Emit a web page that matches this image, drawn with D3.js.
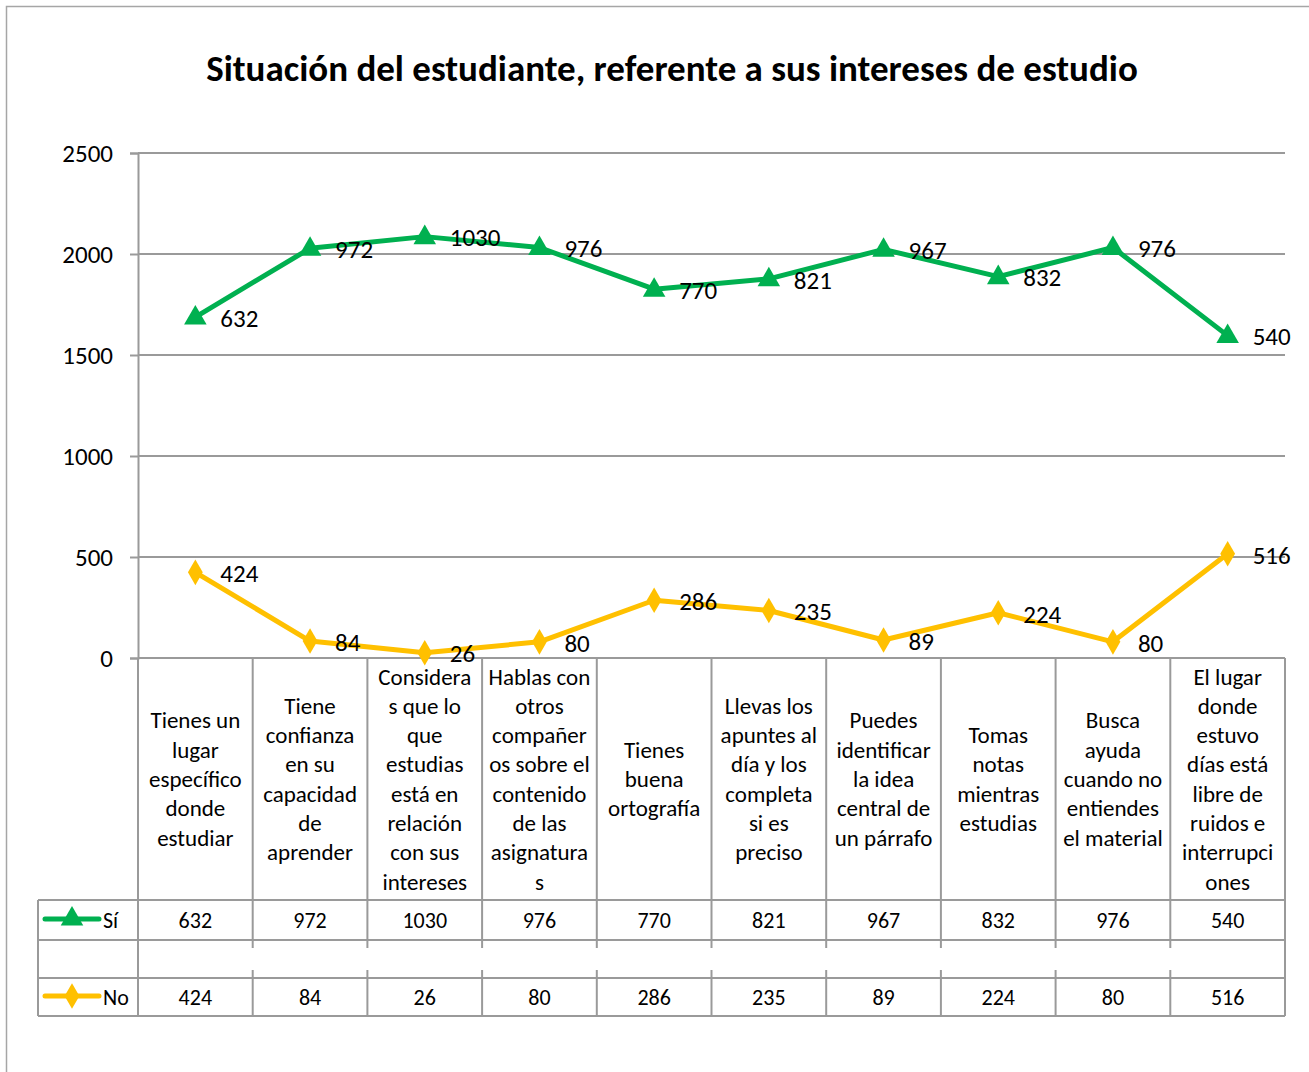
<!DOCTYPE html>
<html><head><meta charset="utf-8">
<script src="https://cdn.jsdelivr.net/npm/d3@7/dist/d3.min.js"></script>
<style>
body{margin:0;background:#fff;}
svg{display:block;font-family:Carlito,Lato,"Open Sans",sans-serif;}
</style></head>
<body><svg id="c" width="1309" height="1072"></svg>
<script>
const title = "Situación del estudiante, referente a sus intereses de estudio";
const categories = [
  "Tienes un\nlugar\nespecífico\ndonde\nestudiar",
  "Tiene\nconfianza\nen su\ncapacidad\nde\naprender",
  "Considera\ns que lo\nque\nestudias\nestá en\nrelación\ncon sus\nintereses",
  "Hablas con\notros\ncompañer\nos sobre el\ncontenido\nde las\nasignatura\ns",
  "Tienes\nbuena\nortografía",
  "Llevas los\napuntes al\ndía y los\ncompleta\nsi es\npreciso",
  "Puedes\nidentificar\nla idea\ncentral de\nun párrafo",
  "Tomas\nnotas\nmientras\nestudias",
  "Busca\nayuda\ncuando no\nentiendes\nel material",
  "El lugar\ndonde\nestuvo\ndías está\nlibre de\nruidos e\ninterrupci\nones"
];
const siValues = [632, 972, 1030, 976, 770, 821, 967, 832, 976, 540];
const blankValues = [632, 972, 1030, 976, 770, 821, 967, 832, 976, 540];
const noValues = [424, 84, 26, 80, 286, 235, 89, 224, 80, 516];
const yTicks = [0, 500, 1000, 1500, 2000, 2500];

const svg = d3.select("#c");
const W = 1309, H = 1072;
const L = 138, R = 1285, T = 153, B = 658;
const rowSi = [900, 940], rowBlank = [940, 978], rowNo = [978, 1016];
const tableLeft = 38;
const grid = "#9a9a9a";
const green = "#00B050", yellow = "#FFC000";

// outer border
svg.append("rect").attr("x", 6.5).attr("y", 6.5).attr("width", W - 2).attr("height", H + 10)
  .attr("fill", "none").attr("stroke", "#a6a6a6").attr("stroke-width", 1.5);

svg.append("text").attr("x", 672).attr("y", 81).attr("text-anchor", "middle")
  .attr("font-size", 37).attr("font-weight", "bold").text(title);

const x = d3.scaleBand().domain(categories).range([L, R]);
const y = d3.scaleLinear().domain([0, 2500]).range([B, T]);
const cx = c => x(c) + x.bandwidth() / 2;

// gridlines
svg.append("g").selectAll("line").data(yTicks.filter(t => t > 0)).join("line")
  .attr("x1", L).attr("x2", R).attr("y1", d => y(d)).attr("y2", d => y(d))
  .attr("stroke", grid).attr("stroke-width", 2);

// y axis
const yAxis = d3.axisLeft(y).tickValues(yTicks).tickSize(8).tickPadding(17).tickFormat(d3.format("d"));
const gy = svg.append("g").attr("transform", `translate(${L},0)`).call(yAxis);
gy.select(".domain").attr("stroke", grid).attr("stroke-width", 2);
gy.selectAll(".tick line").attr("stroke", grid).attr("stroke-width", 2);
gy.selectAll(".tick text").attr("font-size", 25).attr("fill", "#000").attr("font-family", "Carlito,Lato,sans-serif");

// table lines
const tl = svg.append("g").attr("stroke", grid).attr("stroke-width", 2);
tl.append("line").attr("x1", L).attr("x2", R).attr("y1", B).attr("y2", B);
[rowSi[0], rowSi[1], rowNo[0], rowNo[1]].forEach(yy =>
  tl.append("line").attr("x1", tableLeft).attr("x2", R).attr("y1", yy).attr("y2", yy));
tl.append("line").attr("x1", tableLeft).attr("x2", tableLeft).attr("y1", rowSi[0]).attr("y2", rowNo[1]);
const bounds = categories.map(c => x(c)).concat([R]);
bounds.forEach((bx, i) => {
  tl.append("line").attr("x1", bx).attr("x2", bx).attr("y1", B).attr("y2", rowSi[1]);
  tl.append("line").attr("x1", bx).attr("x2", bx).attr("y1", rowNo[0]).attr("y2", rowNo[1]);
  if (i === 0 || i === bounds.length - 1) {
    tl.append("line").attr("x1", bx).attr("x2", bx).attr("y1", rowBlank[0]).attr("y2", rowBlank[1]);
  } else {
    tl.append("line").attr("x1", bx).attr("x2", bx).attr("y1", rowBlank[0]).attr("y2", rowBlank[0] + 8);
    tl.append("line").attr("x1", bx).attr("x2", bx).attr("y1", rowBlank[1] - 8).attr("y2", rowBlank[1]);
  }
});

// category labels
const lh = 29.3;
categories.forEach(c => {
  const lines = c.split("\n");
  const mid = (B + rowSi[0]) / 2;
  const t = svg.append("text").attr("text-anchor", "middle").attr("font-size", 23);
  lines.forEach((ln, i) => {
    t.append("tspan").attr("x", cx(c)).attr("y", mid + (i - (lines.length - 1) / 2) * lh).attr("dy", "0.35em").text(ln);
  });
});

// table values
const rows = [{vals: siValues, r: rowSi}, {vals: noValues, r: rowNo}];
rows.forEach(o => {
  svg.append("g").selectAll("text").data(o.vals).join("text")
    .attr("x", (d, i) => cx(categories[i])).attr("y", (o.r[0] + o.r[1]) / 2).attr("dy", "0.35em")
    .attr("text-anchor", "middle").attr("font-size", 22).text(d => d);
});

// stacked series
const tableData = categories.map((c, i) => ({cat: c, No: noValues[i], Blank: blankValues[i], Si: siValues[i]}));
const stack = d3.stack().keys(["No", "Blank", "Si"])(tableData);
const noLayer = stack[0], siLayer = stack[2];
const line = d3.line().x(d => cx(d.data.cat)).y(d => y(d[1]));

svg.append("path").datum(noLayer).attr("d", line).attr("fill", "none").attr("stroke", yellow)
  .attr("stroke-width", 5).attr("stroke-linejoin", "round");
svg.append("path").datum(siLayer).attr("d", line).attr("fill", "none").attr("stroke", green)
  .attr("stroke-width", 5).attr("stroke-linejoin", "round");

const tri = d3.symbol().type(d3.symbolTriangle).size(220);
const dia = d3.symbol().type(d3.symbolDiamond).size(190);
svg.append("g").selectAll("path").data(siLayer).join("path")
  .attr("d", tri).attr("fill", green)
  .attr("transform", d => `translate(${cx(d.data.cat)},${y(d[1]) + 1})`);
svg.append("g").selectAll("path").data(noLayer).join("path")
  .attr("d", dia).attr("fill", yellow)
  .attr("transform", d => `translate(${cx(d.data.cat)},${y(d[1])})`);

// data labels
svg.append("g").selectAll("text").data(siLayer).join("text")
  .attr("x", d => cx(d.data.cat) + 25).attr("y", d => y(d[1]) + 1).attr("dy", "0.35em")
  .attr("font-size", 25).text(d => d.data.Si);
svg.append("g").selectAll("text").data(noLayer).join("text")
  .attr("x", d => cx(d.data.cat) + 25).attr("y", d => y(d[1]) + 1).attr("dy", "0.35em")
  .attr("font-size", 25).text(d => d.data.No);

// legend keys in table
[{r: rowSi, c: green, s: tri, n: "Sí"}, {r: rowNo, c: yellow, s: dia, n: "No"}].forEach(o => {
  const yy = (o.r[0] + o.r[1]) / 2 - 1;
  svg.append("line").attr("x1", 45).attr("x2", 99).attr("y1", yy).attr("y2", yy)
    .attr("stroke", o.c).attr("stroke-width", 5).attr("stroke-linecap", "round");
  svg.append("path").attr("d", o.s).attr("fill", o.c).attr("transform", `translate(72,${yy})`);
  svg.append("text").attr("x", 103).attr("y", yy + 1).attr("dy", "0.35em").attr("font-size", 22).text(o.n);
});
</script></body></html>
